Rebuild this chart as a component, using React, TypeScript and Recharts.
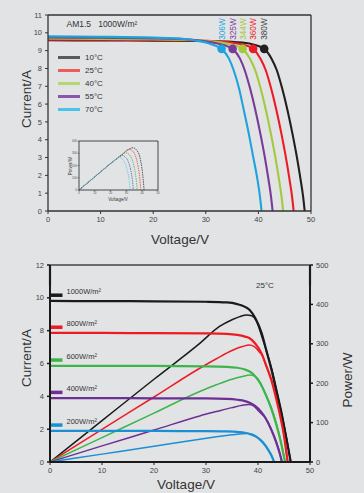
import React from 'react';
import { ComposedChart, LineChart, Line, Scatter, XAxis, YAxis, ReferenceLine } from 'recharts';

const FONT = '"Liberation Sans", Arial, sans-serif';
const BG = '#e2e3e5';

// ---- top chart: I-V curves at AM1.5 1000W/m², per cell temperature
const temps = ['10°C', '25°C', '40°C', '55°C', '70°C'];
const tempColors = ['#231f20', '#ed1c24', '#a4c93c', '#7a3b98', '#1fa3dc'];
const legendColors = ['#5a5a5a', '#f15a5a', '#b9d56e', '#8a55ad', '#4cc1ec'];

const iv10: [number, number][] = [
  [0, 9.58], [10, 9.57], [20, 9.56], [30, 9.54], [35, 9.5], [37, 9.45], [39, 9.35], [41.1, 9.1],
  [42.5, 8.55], [43.5, 7.9], [44.5, 6.9], [45.5, 5.7], [46.5, 4.3], [47.3, 3.05], [48, 1.8], [48.5, 0.8], [48.8, 0],
];
const iv25: [number, number][] = [
  [0, 9.62], [10, 9.61], [20, 9.6], [30, 9.55], [34, 9.48], [36, 9.4], [37.5, 9.3], [39, 9.1],
  [40.4, 8.55], [41.4, 7.9], [42.4, 6.9], [43.4, 5.7], [44.4, 4.3], [45.2, 3.05], [45.9, 1.8], [46.4, 0.8], [46.7, 0],
];
const iv40: [number, number][] = [
  [0, 9.68], [10, 9.66], [20, 9.64], [28, 9.6], [32, 9.5], [34, 9.4], [35.5, 9.3], [37, 9.1],
  [38.4, 8.55], [39.4, 7.9], [40.4, 6.9], [41.4, 5.7], [42.4, 4.3], [43.2, 3.05], [43.9, 1.8], [44.4, 0.8], [44.7, 0],
];
const iv55: [number, number][] = [
  [0, 9.74], [10, 9.72], [20, 9.69], [27, 9.62], [30, 9.52], [32, 9.42], [33.6, 9.3], [35.1, 9.1],
  [36.5, 8.55], [37.4, 7.9], [38.4, 6.9], [39.4, 5.7], [40.4, 4.3], [41.2, 3.05], [41.9, 1.8], [42.4, 0.8], [42.7, 0],
];
const iv70: [number, number][] = [
  [0, 9.8], [10, 9.78], [20, 9.73], [26, 9.65], [29, 9.52], [30.5, 9.42], [31.6, 9.3], [33, 9.1],
  [34.4, 8.55], [35.3, 7.9], [36.3, 6.9], [37.2, 5.7], [38.2, 4.3], [39, 3.05], [39.8, 1.8], [40.3, 0.8], [40.6, 0],
];
const tempCurves = [iv10, iv25, iv40, iv55, iv70];

const mppV = [41.1, 39.0, 37.0, 35.1, 33.0];
const mppI = [9.1, 9.1, 9.1, 9.1, 9.1];
const mppW = ['380W', '360W', '344W', '325W', '306W'];

// ---- inset: P-V curves for the same temperatures
const insetColors = ['#222222', '#e8343a', '#39b54a', '#3b57b5', '#55c6d6'];
const pv10: [number, number][] = [[0, 0], [10, 108], [20, 216], [27, 285], [31, 328], [34.2, 345], [36.5, 325], [38.5, 270], [39.8, 180], [40.6, 90], [41.2, 0]];
const pv25: [number, number][] = [[0, 0], [10, 108], [20, 216], [27, 288], [31.7, 332], [34, 318], [36, 268], [37.5, 185], [38.5, 95], [39.1, 0]];
const pv40: [number, number][] = [[0, 0], [10, 108], [20, 216], [26, 275], [29.4, 304], [31.7, 290], [33.7, 245], [35.2, 170], [36.2, 85], [36.8, 0]];
const pv55: [number, number][] = [[0, 0], [10, 108], [20, 216], [24.5, 262], [26.9, 285], [29, 272], [31.2, 232], [32.8, 160], [33.8, 80], [34.4, 0]];
const pv70: [number, number][] = [[0, 0], [10, 108], [20, 216], [23.5, 252], [25.2, 268], [27.2, 255], [29.2, 215], [30.8, 148], [31.8, 72], [32.3, 0]];
const insetCurves = [pv10, pv25, pv40, pv55, pv70];

// ---- bottom chart: I-V and P-V at 25°C, per irradiance
const irr = ['1000W/m²', '800W/m²', '600W/m²', '400W/m²', '200W/m²'];
const irrColors = ['#1a1a1a', '#ed1c24', '#3db54a', '#6d2f93', '#1a8fd4'];
const ivG1000: [number, number][] = [
  [0, 9.81], [10, 9.8], [20, 9.79], [30, 9.76], [34, 9.72], [36, 9.62], [37.5, 9.45], [38.4, 9.26], [39.5, 8.75],
  [40.7, 7.85], [41.6, 6.8], [42.6, 5.6], [43.6, 4.2], [44.6, 2.77], [45.5, 1.35], [46.3, 0],
];
const ivG800: [number, number][] = [
  [0, 7.86], [10, 7.86], [20, 7.85], [30, 7.83], [34, 7.8], [36, 7.74], [37.5, 7.64], [38.4, 7.54], [39.5, 7.2],
  [40.7, 6.6], [41.6, 5.85], [42.6, 4.95], [43.5, 3.85], [44.3, 2.75], [45, 1.6], [45.7, 0],
];
const ivG600: [number, number][] = [
  [0, 5.86], [10, 5.86], [20, 5.85], [30, 5.83], [34, 5.8], [36, 5.74], [37.5, 5.63], [38.4, 5.51], [39.5, 5.2],
  [40.5, 4.75], [41.5, 4.1], [42.5, 3.3], [43.5, 2.3], [44.4, 1.2], [45.2, 0],
];
const ivG400: [number, number][] = [
  [0, 3.89], [10, 3.89], [20, 3.88], [30, 3.87], [34, 3.84], [36, 3.79], [37.5, 3.71], [38.5, 3.6], [39.5, 3.4],
  [40.5, 3.1], [41.5, 2.65], [42.5, 2.0], [43.5, 1.2], [44.2, 0.5], [44.6, 0],
];
const ivG200: [number, number][] = [
  [0, 1.9], [10, 1.9], [20, 1.89], [30, 1.88], [34, 1.86], [36, 1.83], [37.5, 1.78], [38.5, 1.7], [39.5, 1.56],
  [40.5, 1.33], [41.3, 1.05], [42, 0.72], [42.6, 0.38], [43.1, 0],
];
const pvG1000: [number, number][] = [
  [0, 0], [10, 105], [20, 210], [28.8, 301], [32.6, 344], [35, 361], [36.5, 369], [37.8, 373], [38.8, 371],
  [39.6, 360], [40.7, 320], [41.6, 283], [42.6, 239], [43.6, 183], [44.6, 124], [45.5, 61], [46.3, 0],
];
const pvG800: [number, number][] = [
  [0, 0], [10, 83], [20, 165], [28.8, 238], [32, 262], [35, 283], [37, 293], [38.3, 297], [39.3, 293],
  [40.2, 280], [40.9, 268], [41.6, 243], [42.6, 208], [43.5, 166], [44.3, 120], [45, 72], [45.7, 0],
];
const pvG600: [number, number][] = [
  [0, 0], [10, 62], [20, 124], [28.8, 179], [32, 196], [35, 210], [37, 217], [38.4, 221], [39.5, 217],
  [40.5, 200], [41.5, 170], [42.5, 140], [43.5, 100], [44.4, 53], [45.2, 0],
];
const pvG400: [number, number][] = [
  [0, 0], [10, 41], [20, 81], [28.8, 117], [32, 128], [35, 138], [37, 144], [38.2, 146], [39.2, 142],
  [40.2, 128], [41.5, 110], [42.5, 85], [43.5, 52], [44.2, 22], [44.6, 0],
];
const pvG200: [number, number][] = [
  [0, 0], [10, 20], [20, 40], [28.8, 58], [32, 64], [35, 69], [37, 72], [38, 72.5], [39, 70],
  [40, 62], [40.8, 52], [41.5, 41], [42.2, 26], [42.7, 14], [43.1, 0],
];
const ivIrr = [ivG1000, ivG800, ivG600, ivG400, ivG200];
const pvIrr = [pvG1000, pvG800, pvG600, pvG400, pvG200];

const vTicks = [0, 10, 20, 30, 40, 50];
const iTicksTop = [0, 1, 2, 3, 4, 5, 6, 7, 8, 9, 10, 11];
const iTicksBottom = [0, 2, 4, 6, 8, 10, 12];
const pTicks = [0, 100, 200, 300, 400, 500];
const insetPTicks = [0, 100, 200, 300, 400];

const pts = (arr: [number, number][]) => arr.map(([v, y]) => ({ v, y }));

const tick = { fontSize: 7.5, fill: '#444', fontFamily: FONT };

const Title = ({ x, y, text, rotate = false, size = 13.5 }: any) => (
  <div
    style={{
      position: 'absolute', left: x, top: y, fontSize: size, color: '#333', whiteSpace: 'nowrap',
      transform: `translate(-50%, -50%)${rotate ? ' rotate(-90deg)' : ''}`, lineHeight: 1,
    }}
  >
    {text}
  </div>
);

const MppDot = (props: any) => {
  const { cx, cy, payload } = props;
  const ty = cy - 9;
  return (
    <g>
      <circle cx={cx} cy={cy} r={4.3} fill={payload.c} />
      <text
        x={cx} y={ty} transform={`rotate(-90 ${cx} ${ty})`} textAnchor="start" dominantBaseline="central"
        fontSize={8.3} fill={payload.c === '#231f20' ? '#444' : payload.c} fontFamily={FONT}
      >
        {payload.w}
      </text>
    </g>
  );
};

const TopChart = () => {
  const mppPts = mppV.map((v, k) => ({ v, y: mppI[k], w: mppW[k], c: tempColors[k] }));
  return (
    <ComposedChart width={364} height={240} margin={{ top: 15, right: 53, left: 0, bottom: 0 }}>
      <XAxis
        type="number" dataKey="v" domain={[0, 50]} ticks={vTicks} height={29} tick={tick}
        axisLine={{ stroke: '#333', strokeWidth: 1.3 }} tickLine={{ stroke: '#333' }} tickSize={3} tickMargin={3}
      />
      <YAxis
        type="number" domain={[0, 11]} ticks={iTicksTop} width={48} tick={tick} interval={0}
        axisLine={{ stroke: '#333', strokeWidth: 1.3 }} tickLine={{ stroke: '#333' }} tickSize={3} tickMargin={3}
      />
      <ReferenceLine y={11} stroke="#333" strokeWidth={1.3} />
      <ReferenceLine x={50} stroke="#333" strokeWidth={1.3} />
      {tempCurves.map((c, k) => (
        <Line
          key={temps[k]} data={pts(c)} dataKey="y" type="monotone" stroke={tempColors[k]}
          strokeWidth={2.1} dot={false} isAnimationActive={false}
        />
      ))}
      <Scatter data={mppPts} dataKey="y" shape={MppDot} isAnimationActive={false} />
    </ComposedChart>
  );
};

const Inset = () => (
  <LineChart width={98} height={66} margin={{ top: 3, right: 4, left: 0, bottom: 0 }}>
    <XAxis
      type="number" dataKey="v" domain={[0, 50]} ticks={vTicks} height={14}
      tick={{ fontSize: 3, fill: '#555' }} axisLine={{ stroke: '#222', strokeWidth: 0.8 }}
      tickLine={{ stroke: '#222', strokeWidth: 0.5 }} tickSize={1.5} tickMargin={0.5}
    />
    <YAxis
      type="number" domain={[0, 400]} ticks={insetPTicks} width={15}
      tick={{ fontSize: 3, fill: '#555' }} axisLine={{ stroke: '#222', strokeWidth: 0.8 }}
      tickLine={{ stroke: '#222', strokeWidth: 0.5 }} tickSize={1.5} tickMargin={0.5}
    />
    <ReferenceLine y={400} stroke="#222" strokeWidth={0.8} />
    <ReferenceLine x={50} stroke="#222" strokeWidth={0.8} />
    {insetCurves.map((c, k) => (
      <Line
        key={k} data={pts(c)} dataKey="y" type="monotone" stroke={insetColors[k]} strokeWidth={0.7}
        strokeDasharray="1.6 0.8" dot={false} isAnimationActive={false}
      />
    ))}
  </LineChart>
);

const IrrLabel = (text: string) => ({
  content: (p: any) => {
    const vb = p.viewBox || {};
    return (
      <text
        x={vb.x + (vb.width || 0) + 4} y={vb.y - 3.6} dominantBaseline="central"
        fontSize={7.5} fill="#333" fontFamily={FONT}
      >
        {text}
      </text>
    );
  },
});

const BottomChart = () => (
  <ComposedChart width={364} height={243} margin={{ top: 15, right: 0, left: 0, bottom: 0 }}>
    <XAxis
      type="number" dataKey="v" domain={[0, 50]} ticks={vTicks} height={31} tick={tick}
      axisLine={{ stroke: '#1a1a1a', strokeWidth: 2 }} tickLine={{ stroke: '#1a1a1a' }} tickSize={3} tickMargin={3}
    />
    <YAxis
      yAxisId="i" type="number" domain={[0, 12]} ticks={iTicksBottom} width={50} tick={tick}
      axisLine={{ stroke: '#1a1a1a', strokeWidth: 2 }} tickLine={{ stroke: '#1a1a1a', strokeWidth: 1.5 }}
      tickSize={3} tickMargin={3}
    />
    <YAxis
      yAxisId="p" orientation="right" type="number" domain={[0, 500]} ticks={pTicks} width={54} tick={tick}
      axisLine={{ stroke: '#1a1a1a', strokeWidth: 2 }} tickLine={{ stroke: '#1a1a1a', strokeWidth: 1.5 }}
      tickSize={3} tickMargin={3}
    />
    <ReferenceLine yAxisId="i" y={12} stroke="#444" strokeWidth={1.3} />
    <ReferenceLine yAxisId="i" segment={[{ x: 0, y: 10.75 }, { x: 0, y: 12 }]} stroke="#8c8c8c" strokeWidth={2.4} />
    <ReferenceLine yAxisId="i" segment={[{ x: 50, y: 10.75 }, { x: 50, y: 12 }]} stroke="#8c8c8c" strokeWidth={2.4} />
    {pvIrr.map((c, k) => (
      <Line
        key={'p' + k} yAxisId="p" data={pts(c)} dataKey="y" type="monotone" stroke={irrColors[k]}
        strokeWidth={1.5} dot={false} isAnimationActive={false}
      />
    ))}
    {ivIrr.map((c, k) => (
      <Line
        key={'i' + k} yAxisId="i" data={pts(c)} dataKey="y" type="monotone" stroke={irrColors[k]}
        strokeWidth={2.2} dot={false} isAnimationActive={false}
      />
    ))}
    {ivIrr.map((c, k) => (
      <ReferenceLine
        key={'l' + k} yAxisId="i" segment={[{ x: 0, y: c[0][1] + 0.35 }, { x: 2.4, y: c[0][1] + 0.35 }]}
        stroke={irrColors[k]} strokeWidth={3.5} ifOverflow="visible" label={IrrLabel(irr[k])}
      />
    ))}
  </ComposedChart>
);

export default function App() {
  return (
    <div style={{ position: 'absolute', left: 0, top: 0, width: 364, height: 493, background: BG, fontFamily: FONT, overflow: 'hidden' }}>
      <div style={{ position: 'absolute', left: 0, top: 0 }}>
        <TopChart />
      </div>
      <div style={{ position: 'absolute', left: 64, top: 138 }}>
        <Inset />
      </div>
      <Title x={70.5} y={165.5} text="Power/W" rotate size={4.5} />
      <Title x={118} y={199.5} text="Voltage/V" size={4.5} />
      <div style={{ position: 'absolute', left: 66.5, top: 19.5, fontSize: 8.5, color: '#333', whiteSpace: 'pre', lineHeight: 1 }}>
        {'AM1.5   1000W/m²'}
      </div>
      <div style={{ position: 'absolute', left: 58, top: 51 }}>
        {temps.map((t, k) => (
          <div key={t} style={{ display: 'flex', alignItems: 'center', height: 13 }}>
            <span style={{ width: 22, height: 3, background: legendColors[k] }} />
            <span style={{ marginLeft: 5, fontSize: 8, color: '#333' }}>{t}</span>
          </div>
        ))}
      </div>
      <Title x={27} y={99} text="Current/A" rotate />
      <Title x={180} y={240} text="Voltage/V" />

      <div style={{ position: 'absolute', left: 0, top: 250 }}>
        <BottomChart />
      </div>
      <div style={{ position: 'absolute', left: 256, top: 282, fontSize: 8, color: '#333', lineHeight: 1 }}>25°C</div>
      <Title x={27} y={358} text="Current/A" rotate />
      <Title x={348} y={380} text="Power/W" rotate />
      <Title x={186} y={485} text="Voltage/V" />
    </div>
  );
}
